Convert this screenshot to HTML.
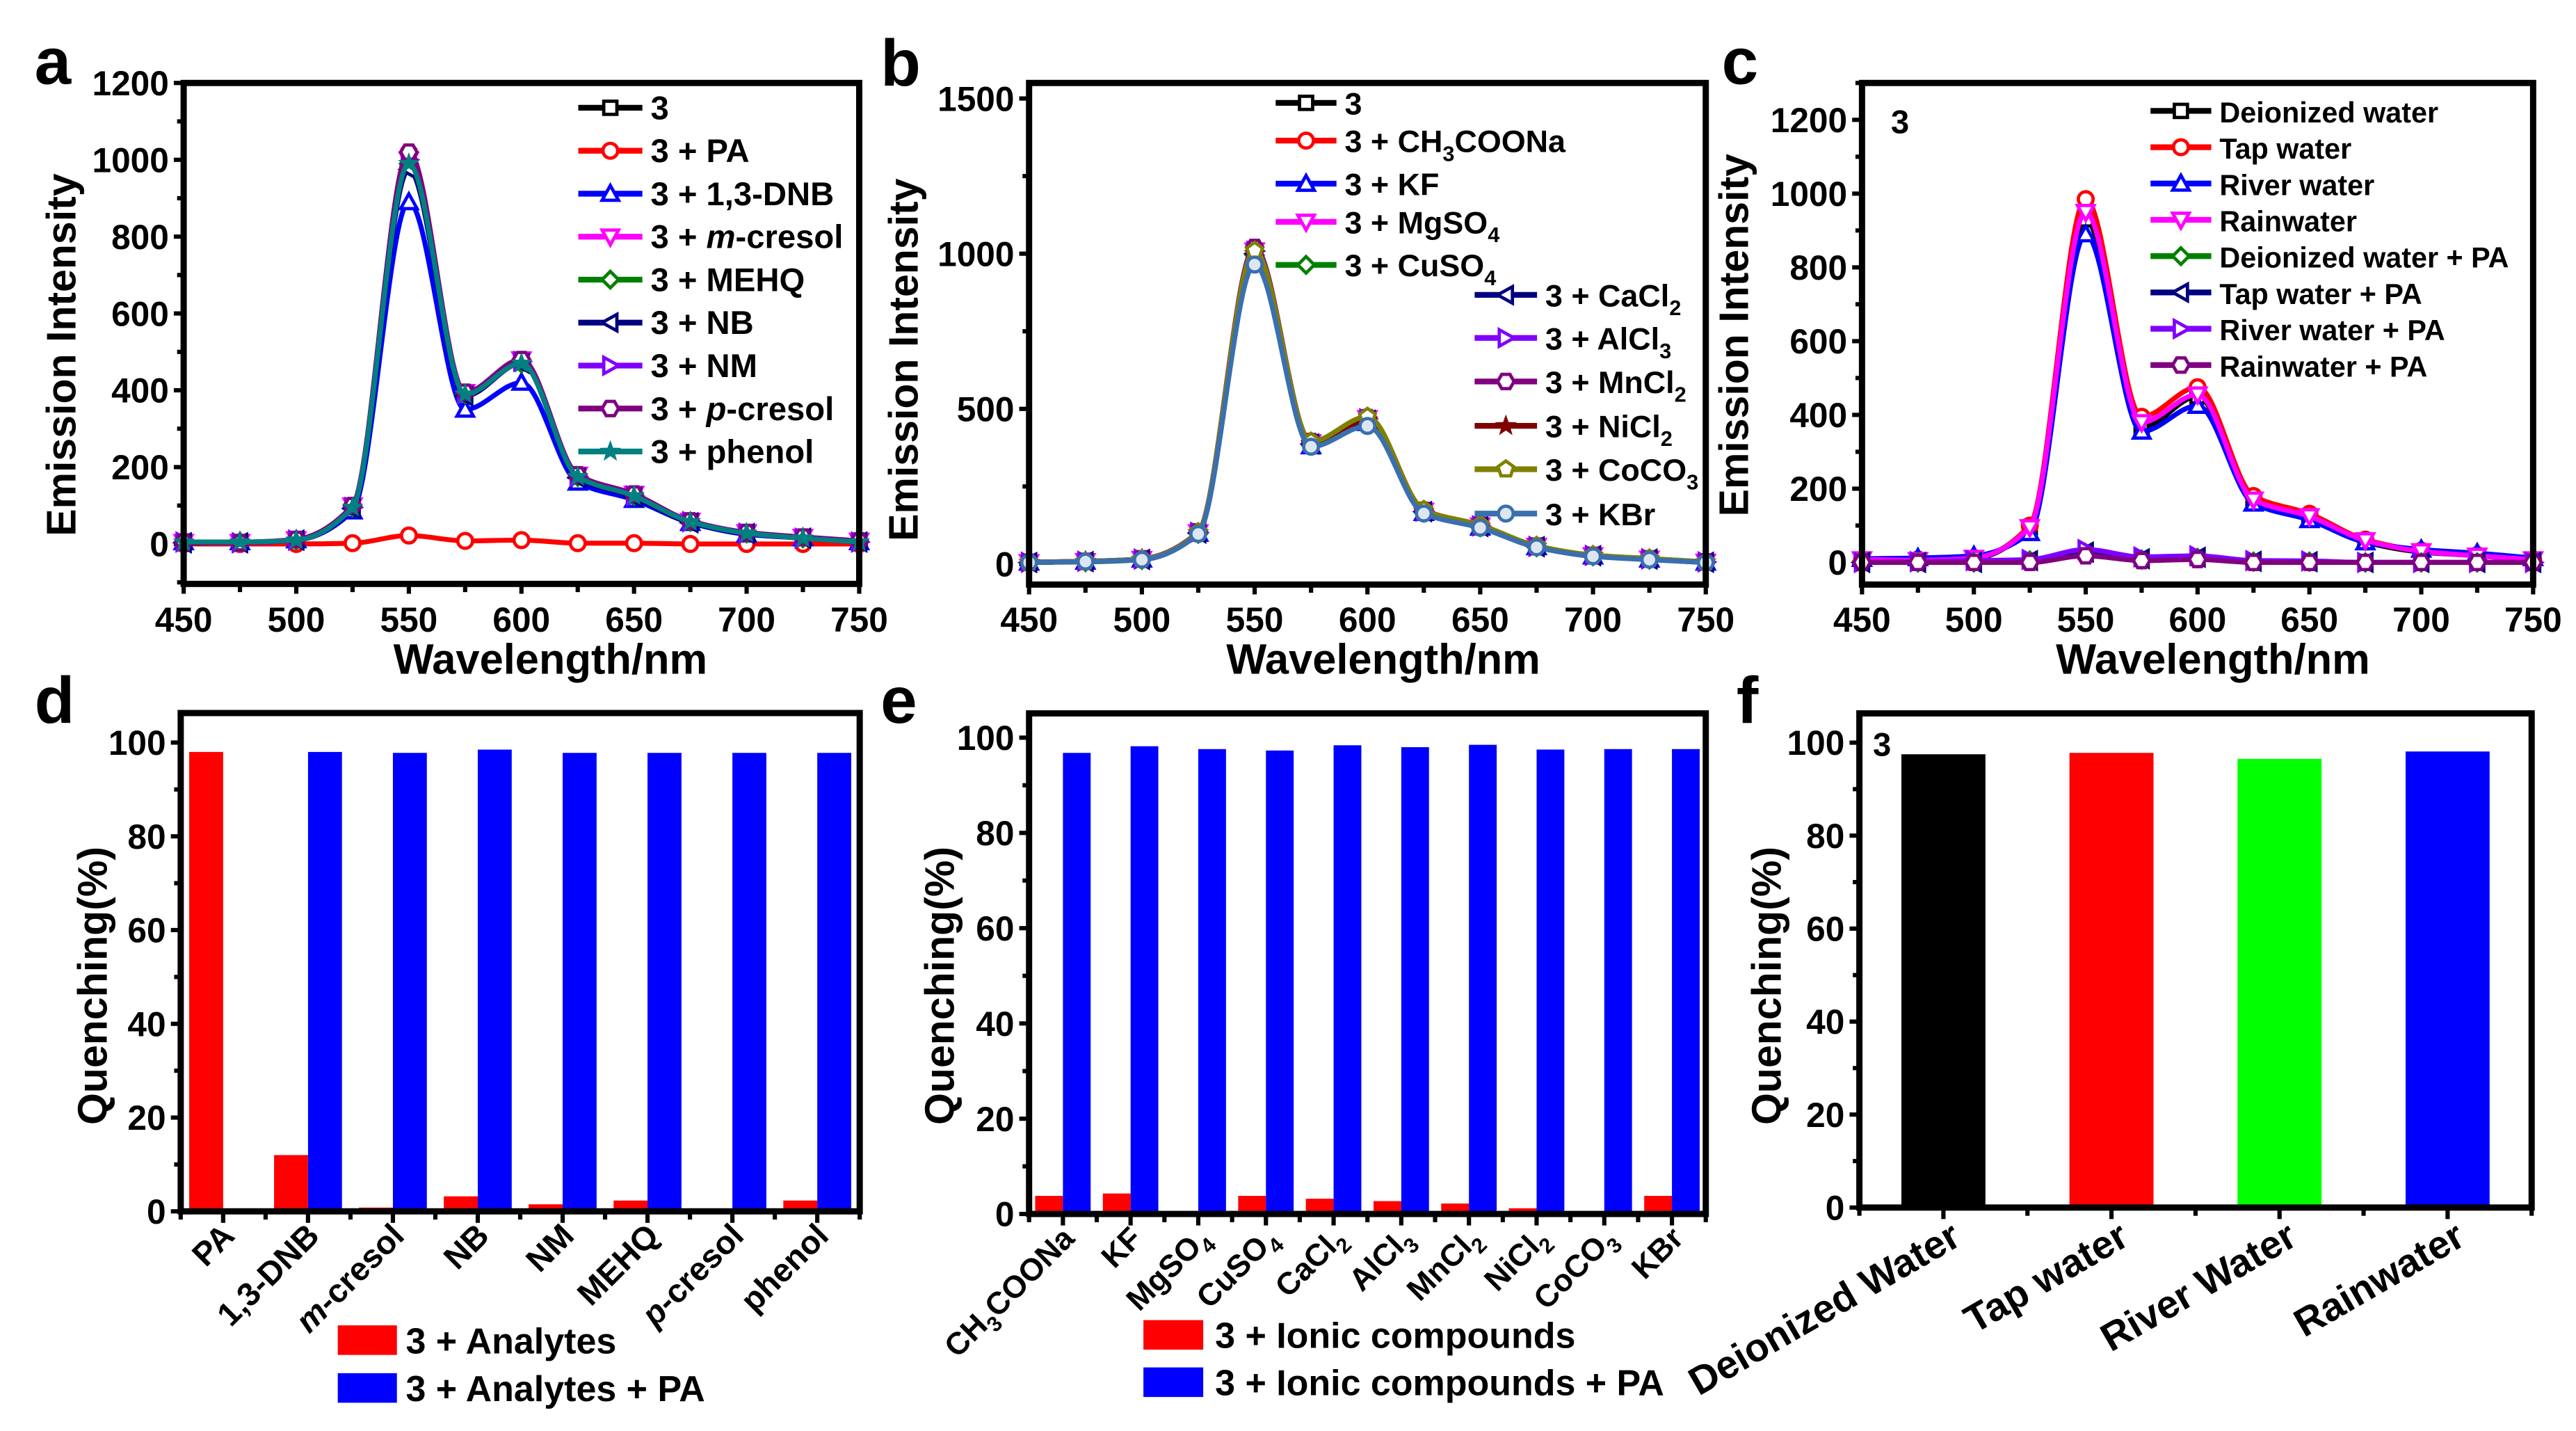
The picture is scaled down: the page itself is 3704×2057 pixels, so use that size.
<!DOCTYPE html>
<html><head><meta charset="utf-8">
<style>
html,body{margin:0;padding:0;background:#fff;}
svg{display:block;font-family:"Liberation Sans",Arial,sans-serif;font-weight:bold;}
</style></head>
<body>
<svg id="fig" xmlns="http://www.w3.org/2000/svg" width="3704" height="2057" viewBox="0 0 1568 871" preserveAspectRatio="none">
<rect width="1568" height="871" fill="#fff"/>
</svg>
<script>
// ---------- data ----------
const wavelengths=[450,475,500,525,550,575,600,625,650,675,700,725,750];
const xTicksSpec=[450,500,550,600,650,700,750];

const seriesANames=["3","3 + PA","3 + 1,3-DNB","3 + m-cresol","3 + MEHQ","3 + NB","3 + NM","3 + p-cresol","3 + phenol"];
const sA0=[5,5,10,95,1010,390,475,175,125,60,28,15,5];
const sA1=[0,0,0,2,22,8,10,2,2,0,0,0,0];
const sA2=[5,5,10,85,890,350,420,160,115,55,25,15,5];
const sA3=[5,5,12,100,1000,395,480,180,130,60,30,18,8];
const sA4=[5,5,10,95,990,390,470,175,125,58,28,15,5];
const sA5=[3,3,10,92,975,385,470,172,122,55,27,15,5];
const sA6=[5,3,10,95,1000,390,475,175,125,58,28,15,5];
const sA7=[5,3,12,100,1020,395,480,180,130,60,30,18,8];
const sA8=[5,5,10,95,990,390,470,175,125,58,28,15,5];
const yTicksA=[0,200,400,600,800,1000,1200];

const seriesBNames=["3","3 + CH3COONa","3 + KF","3 + MgSO4","3 + CuSO4","3 + CaCl2","3 + AlCl3","3 + MnCl2","3 + NiCl2","3 + CoCO3","3 + KBr"];
const sB0=[5,8,15,100,1005,390,465,170,122,57,27,16,6];
const sB1=[5,8,15,100,1000,385,462,168,120,56,26,15,5];
const sB2=[5,8,15,98,990,380,455,165,118,55,25,15,5];
const sB3=[6,9,16,102,1010,392,470,172,124,58,28,17,7];
const sB4=[5,7,14,98,995,383,458,166,119,55,26,15,5];
const sB5=[5,8,15,100,1000,387,463,169,121,56,27,16,6];
const sB6=[6,9,16,102,1008,392,468,171,123,57,28,17,7];
const sB7=[6,9,17,104,1020,395,472,173,125,58,28,17,7];
const sB8=[5,8,15,100,1000,388,464,169,121,56,27,16,6];
const sB9=[6,9,16,103,1010,395,475,175,126,59,29,18,7];
const sB10=[5,8,14,97,965,378,445,163,117,54,25,14,5];
const yTicksB=[0,500,1000,1500];

const seriesCNames=["Deionized water","Tap water","River water","Rainwater","Deionized water + PA","Tap water + PA","River water + PA","Rainwater + PA"];
const sC0=[5,5,10,95,930,365,450,165,120,55,28,18,6];
const sC1=[8,8,12,100,985,395,475,180,132,62,32,20,8];
const sC2=[10,12,18,80,890,355,425,160,115,55,35,25,12];
const sC3=[8,6,12,95,950,380,455,170,125,60,30,18,8];
const sC4=[0,0,0,5,25,8,12,2,2,0,0,0,0];
const sC5=[0,0,0,5,28,10,14,3,2,0,0,0,0];
const sC6=[0,2,5,8,35,15,18,5,4,0,0,0,0];
const sC7=[0,0,0,0,18,5,8,0,0,0,0,0,0];
const yTicksC=[0,200,400,600,800,1000,1200];

const catD=["PA","1,3-DNB","m-cresol","NB","NM","MEHQ","p-cresol","phenol"];
const redD=[98,12,0.8,3.2,1.5,2.3,0,2.3];
const blueD=[0,98,97.8,98.5,97.8,97.8,97.8,97.8];

const catE=["CH3COONa","KF","MgSO4","CuSO4","CaCl2","AlCl3","MnCl2","NiCl2","CoCO3","KBr"];
const redE=[3.8,4.3,0,3.8,3.2,2.7,2.2,1.2,0,3.8];
const blueE=[96.8,98.2,97.6,97.3,98.4,98,98.5,97.5,97.6,97.6];

const catF=["Deionized Water","Tap water","River Water","Rainwater"];
const valF=[97.5,97.8,96.5,98.1];
const yTicksQ=[0,20,40,60,80,100];

// ---------- helpers ----------
const NS="http://www.w3.org/2000/svg";
const svg=document.getElementById("fig");
function mk(tag,attrs,parent){const e=document.createElementNS(NS,tag);for(const k in attrs)e.setAttribute(k,attrs[k]);(parent||svg).appendChild(e);return e;}
function grp(name){const g=mk("g",{});return g;}
function txt(parent,x,y,s,size,anchor,name){const t=mk("text",{x:x,y:y,"font-size":size,"text-anchor":anchor||"start",fill:"#000"},parent);t.textContent=s;return t;}
function chemTxt(parent,x,y,s,size,anchor,name,subSize,rot){
  const t=mk("text",{x:x,y:y,"font-size":size,"text-anchor":anchor||"start",fill:"#000"},parent);
  if(rot)t.setAttribute("transform","rotate("+rot+" "+x+" "+y+")");
  
  const parts=s.match(/([^0-9]+|\d+)/g);let prevSub=false;let prev="";
  parts.forEach(p=>{
    const isDigit=/^\d+$/.test(p);
    const sub=isDigit&&/[A-Za-z]$/.test(prev)&&subSize;
    const ts=mk("tspan",{},t);
    if(sub){ts.setAttribute("font-size",subSize);ts.setAttribute("dy",size*0.28);prevSub=true;}
    else if(prevSub){ts.setAttribute("dy",-size*0.28);prevSub=false;}
    ts.textContent=p;prev=p;
  });
  return t;
}
// monotone cubic interpolation path
function smoothPath(pts){
  const n=pts.length,dx=[],m=[],t=[];
  for(let i=0;i<n-1;i++){dx.push(pts[i+1][0]-pts[i][0]);m.push((pts[i+1][1]-pts[i][1])/dx[i]);}
  t[0]=m[0];t[n-1]=m[n-2];
  for(let i=1;i<n-1;i++){
    if(m[i-1]*m[i]<=0)t[i]=0;
    else{const w1=2*dx[i]+dx[i-1],w2=dx[i]+2*dx[i-1];t[i]=(w1+w2)/(w1/m[i-1]+w2/m[i]);}
  }
  let d="M"+pts[0][0].toFixed(2)+","+pts[0][1].toFixed(2);
  for(let i=0;i<n-1;i++){
    const h=dx[i]/3;
    d+=" C"+(pts[i][0]+h).toFixed(2)+","+(pts[i][1]+t[i]*h).toFixed(2)+" "+(pts[i+1][0]-h).toFixed(2)+","+(pts[i+1][1]-t[i+1]*h).toFixed(2)+" "+pts[i+1][0].toFixed(2)+","+pts[i+1][1].toFixed(2);
  }
  return d;
}
function marker(parent,shape,x,y,color,fill){
  const r=5;let e;const a={fill:fill||"#fff",stroke:color,"stroke-width":2};
  const poly=(pts)=>mk("polygon",Object.assign({points:pts.map(p=>(x+p[0])+","+(y+p[1])).join(" ")},a),parent);
  if(shape==="square")e=mk("rect",Object.assign({x:x-4,y:y-4,width:8,height:8},a),parent);
  else if(shape==="circle")e=mk("circle",Object.assign({cx:x,cy:y,r:4.5},a),parent);
  else if(shape==="up")e=poly([[0,-r],[r,r*0.8],[-r,r*0.8]]);
  else if(shape==="down")e=poly([[0,r],[r,-r*0.8],[-r,-r*0.8]]);
  else if(shape==="diamond")e=poly([[0,-r],[r,0],[0,r],[-r,0]]);
  else if(shape==="left")e=poly([[-r,0],[r*0.8,-r],[r*0.8,r]]);
  else if(shape==="right")e=poly([[r,0],[-r*0.8,-r],[-r*0.8,r]]);
  else if(shape==="hex"){const p=[];for(let k=0;k<6;k++){const an=Math.PI/3*k;p.push([r*Math.cos(an),r*Math.sin(an)]);}e=poly(p);}
  else if(shape==="pent"){const p=[];for(let k=0;k<5;k++){const an=-Math.PI/2+2*Math.PI/5*k;p.push([r*Math.cos(an),r*Math.sin(an)]);}e=poly(p);}
  else if(shape==="star"){const p=[];for(let k=0;k<10;k++){const an=-Math.PI/2+Math.PI/5*k;const rr=k%2?r*0.45:r*1.1;p.push([rr*Math.cos(an),rr*Math.sin(an)]);}e=mk("polygon",{points:p.map(q=>(x+q[0])+","+(y+q[1])).join(" "),fill:color,stroke:color,"stroke-width":1},parent);}
  
  
  return e;
}
function frame(P,name){
  const r=mk("rect",{x:P.x0,y:P.y0,width:P.x1-P.x0,height:P.y1-P.y0,fill:"none",stroke:"#000","stroke-width":3.8});
  
}
function yAxis(P,ticks,minorStep,name){
  const g=grp(name);
  const sy=v=>P.y1-(v-P.ymin)/(P.ymax-P.ymin)*(P.y1-P.y0);
  for(let v=Math.ceil(P.ymin/minorStep)*minorStep;v<=P.ymax;v+=minorStep){
    const major=ticks.indexOf(v)>=0;
    mk("line",{x1:P.x0,x2:P.x0-(major?6:4),y1:sy(v),y2:sy(v),stroke:"#000","stroke-width":2.6},g);
  }
  ticks.forEach(v=>txt(g,P.x0-9,sy(v)+7.5,String(v),21,"end","y-tick-label"));
  return sy;
}
function panelLetter(x,y,s){txt(svg,x,y,s,40,"start","panel-label-"+s);}
function yTitle(x,y,s,size,name){const t=txt(svg,x,y,s,size,"middle",name);t.setAttribute("transform","rotate(-90 "+x+" "+y+")");}

// ---------- spectra panels ----------
const shapesA=["square","circle","up","down","diamond","left","right","hex","star"];
const colorsA=["#000","#ff0000","#0000ff","#ff00ff","#008000","#000080","#8000ff","#800080","#008080"];
function spectrum(P,series,names,colors,shapes,yTicks,minorStep,letter,legendPos,fills){
  const sx=v=>P.x0+(v-450)/300*(P.x1-P.x0);
  const sy=yAxis(P,yTicks,minorStep,"y-axis-"+letter);
  const xg=grp("x-axis-"+letter);
  for(let v=450;v<=750;v+=25){const major=xTicksSpec.indexOf(v)>=0;mk("line",{x1:sx(v),x2:sx(v),y1:P.y1,y2:P.y1+(major?6:5),stroke:"#000","stroke-width":2.6},xg);}
  xTicksSpec.forEach(v=>txt(xg,sx(v),384.5,String(v),21,"middle","x-tick-label"));
  const plot=grp("plot-area-"+letter);
  series.forEach((s,i)=>{
    const pts=wavelengths.map((w,j)=>[sx(w),sy(s[j])]);
    const sg=mk("g",{},plot);
    
    
    const p=mk("path",{d:smoothPath(pts),fill:"none",stroke:colors[i],"stroke-width":3,"stroke-linejoin":"round"},sg);
    
    
    pts.forEach(q=>marker(sg,shapes[i],q[0],q[1],colors[i],fills?fills[i]:null));
  });
  const lg=grp("legend-"+letter);
  names.forEach((n,i)=>{
    const L=legendPos(i);
    const eg=mk("g",{},lg);
    
    
    mk("line",{x1:L.x,x2:L.x+L.len,y1:L.y,y2:L.y,stroke:colors[i],"stroke-width":3.5},eg);
    marker(eg,shapes[i],L.x+L.len/2,L.y,colors[i],fills?fills[i]:null);
    if(L.italic){
      const t=mk("text",{x:L.x+L.len+5,y:L.y+7,"font-size":L.fs,fill:"#000"},eg);
      
      const m=n.match(/^(3 \+ )([mp])(-cresol)$/);
      if(m){const a=mk("tspan",{},t);a.textContent=m[1];const b=mk("tspan",{"font-style":"italic"},t);b.textContent=m[2];const c=mk("tspan",{},t);c.textContent=m[3];}
      else t.textContent=n;
    } else chemTxt(eg,L.x+L.len+5,L.y+7,n,L.fs,"start","legend-label",L.sub?13:null);
  });
  frame(P,"frame-"+letter);
}
const PA={x0:111.8,x1:523,y0:50.5,y1:355.4,ymin:-104,ymax:1200};
const PB={x0:626.4,x1:1038.3,y0:50.5,y1:355.8,ymin:-66,ymax:1550};
const PC={x0:1133.4,x1:1541.9,y0:50.5,y1:355.8,ymin:-60,ymax:1300};

spectrum(PA,[sA0,sA1,sA2,sA3,sA4,sA5,sA6,sA7,sA8],seriesANames,colorsA,shapesA,yTicksA,100,"a",
  i=>({x:352,len:39,y:65.6+i*26.15,fs:20,italic:true}));

const colorsB=["#000","#ff0000","#0000ff","#ff00ff","#008000","#000080","#8000ff","#800080","#800000","#808000","#3a6fb0"];
const shapesB=["square","circle","up","down","diamond","left","right","hex","star","pent","circle"];
const fillsB=[null,null,null,null,null,null,null,null,null,null,"#dde6f0"];
const legYB=[62.6,85.6,111.8,135,161.2,179.5,205.7,232.2,259.2,285.6,312.6];
spectrum(PB,[sB0,sB1,sB2,sB3,sB4,sB5,sB6,sB7,sB8,sB9,sB10],seriesBNames,colorsB,shapesB,yTicksB,250,"b",
  i=>i<5?{x:776.5,len:37,y:legYB[i],fs:19,sub:true}:{x:897.6,len:38,y:legYB[i],fs:19,sub:true},fillsB);

const colorsC=["#000","#ff0000","#0000ff","#ff00ff","#008000","#000080","#8000ff","#800080"];
const shapesC=["square","circle","up","down","diamond","left","right","hex"];
spectrum(PC,[sC0,sC1,sC2,sC3,sC4,sC5,sC6,sC7],seriesCNames,colorsC,shapesC,yTicksC,100,"c",
  i=>({x:1309,len:37,y:67.5+i*22.1,fs:17.5}));
txt(svg,1151,81,"3",20,"start","compound-label-c");

// ---------- bar panels ----------
function barPanel(P,cats,groups,colors,groupFrac,letter,labelRot,labelDX,labelDY,labelFS,catColorsSingle){
  const n=cats.length,step=(P.x1-P.x0)/n;
  const cx=i=>P.x0+step*(i+0.5);
  const sy=yAxis(P,yTicksQ,10,"y-axis-"+letter);
  const xg=grp("x-axis-"+letter);
  for(let i=0;i<=n;i++){mk("line",{x1:P.x0+step*i,x2:P.x0+step*i,y1:P.y1,y2:P.y1+5,stroke:"#000","stroke-width":2.6},xg);}
  for(let i=0;i<n;i++){mk("line",{x1:cx(i),x2:cx(i),y1:P.y1,y2:P.y1+7,stroke:"#000","stroke-width":2.6},xg);}
  cats.forEach((c,i)=>{
    const x=cx(i)+labelDX,y=P.y1+labelDY;
    const t=chemTxt(xg,x,y,c,labelFS,"end","x-tick-label",13,labelRot);
    if(letter==="d"&&(c==="m-cresol"||c==="p-cresol")){t.textContent="";const a=mk("tspan",{"font-style":"italic"},t);a.textContent=c[0];const b=mk("tspan",{},t);b.textContent=c.slice(1);}
  });
  const plot=grp("plot-area-"+letter);
  const bw=step*groupFrac/groups.length;
  groups.forEach((vals,gi)=>{
    vals.forEach((v,i)=>{
      const x=cx(i)-step*groupFrac/2+gi*bw;
      const col=catColorsSingle?catColorsSingle[i]:colors[gi];
      const r=mk("rect",{x:x,y:sy(v),width:bw,height:Math.max(0,sy(0)-sy(v)),fill:col},plot);
      
      
    });
  });
  frame(P,"frame-"+letter);
}
const PD={x0:110,x1:523.3,y0:434,y1:737.3,ymin:0,ymax:106.3};
const PE={x0:626.4,x1:1038.3,y0:434.2,y1:738.9,ymin:0,ymax:105.1};
const PF={x0:1131.8,x1:1541,y0:434.2,y1:735,ymin:0,ymax:106.3};
barPanel(PD,catD,[redD,blueD],["#ff0000","#0000ff"],0.8,"d",-45,8,16,20);
barPanel(PE,catE,[redE,blueE],["#ff0000","#0000ff"],0.82,"e",-45,8,16,19);
barPanel(PF,catF,[valF],["#000"],0.5,"f",-30,12,22,24,["#000000","#ff0000","#00ff00","#0000ff"]);
txt(svg,1140,460,"3",20,"start","compound-label-f");

function barLegend(x,y1,y2,w,h,tx,l1,l2,fs,name){
  const g=grp(name);
  const e1=mk("g",{},g);
  mk("rect",{x:x,y:y1,width:w,height:h,fill:"#ff0000"},e1);txt(e1,tx,y1+h-1,l1,fs,"start","legend-label");
  const e2=mk("g",{},g);
  mk("rect",{x:x,y:y2,width:w,height:h,fill:"#0000ff"},e2);txt(e2,tx,y2+h-1,l2,fs,"start","legend-label");
}
barLegend(205.6,806.7,835.8,36,18,247,"3 + Analytes","3 + Analytes + PA",22,"legend-d");
barLegend(696,803.5,832.3,36.4,18,739.6,"3 + Ionic compounds","3 + Ionic compounds + PA",22,"legend-e");

txt(svg,335,410,"Wavelength/nm",26,"middle","x-axis-title-a");
txt(svg,842,410,"Wavelength/nm",26,"middle","x-axis-title-b");
txt(svg,1347,410,"Wavelength/nm",26,"middle","x-axis-title-c");
yTitle(46,216,"Emission Intensity",25,"y-axis-title-a");
yTitle(558.5,219,"Emission Intensity",25,"y-axis-title-b");
yTitle(1064,204,"Emission Intensity",25,"y-axis-title-c");
yTitle(65,600,"Quenching(%)",25,"y-axis-title-d");
yTitle(580.5,600,"Quenching(%)",25,"y-axis-title-e");
yTitle(1084,600,"Quenching(%)",25,"y-axis-title-f");

panelLetter(21,51,"a");panelLetter(536,52,"b");panelLetter(1048,51,"c");
panelLetter(21,440,"d");panelLetter(536,440,"e");panelLetter(1057,440,"f");
</script>
</body></html>
